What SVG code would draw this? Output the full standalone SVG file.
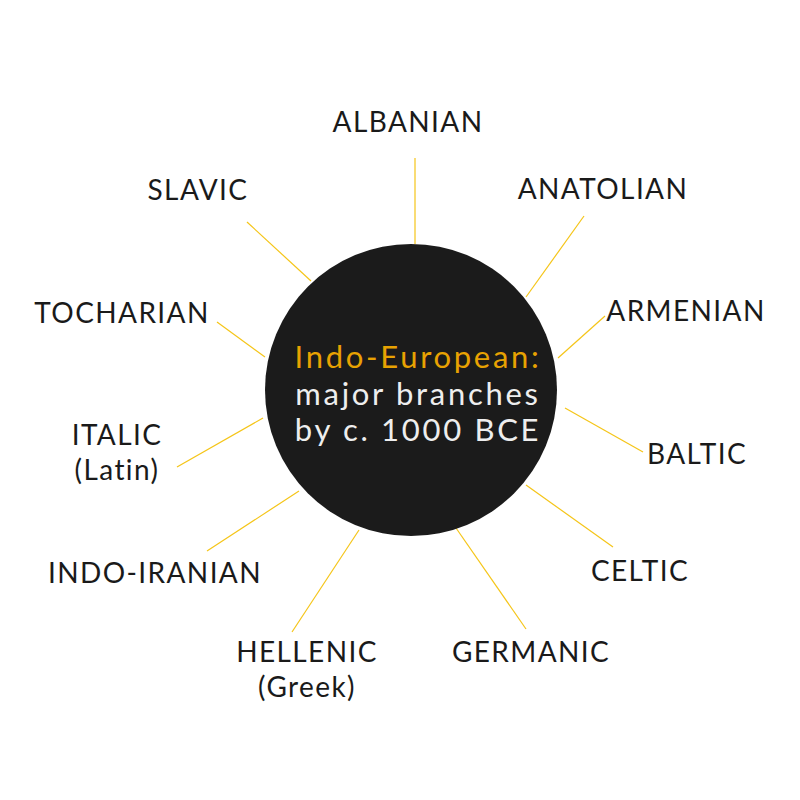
<svg xmlns="http://www.w3.org/2000/svg" width="800" height="800" viewBox="0 0 800 800">
<style>
.lbl{font-family:Lato,"Liberation Sans",sans-serif;font-size:28px;letter-spacing:1.4px;fill:#1a1a1a;text-anchor:middle}
.ln{stroke:#f5c518;stroke-width:1.2;fill:none}
.ttl{font-family:Lato,"Liberation Sans",sans-serif;font-size:31px;letter-spacing:2.7px;text-anchor:middle}
</style>
<rect width="800" height="800" fill="#ffffff"/>
<g id="connectors">
<line class="ln" x1="415" y1="158" x2="415" y2="244"/>
<line class="ln" x1="584" y1="216" x2="526" y2="297"/>
<line class="ln" x1="605" y1="316" x2="558" y2="358"/>
<line class="ln" x1="643" y1="452" x2="565" y2="408"/>
<line class="ln" x1="613" y1="547" x2="526" y2="485"/>
<line class="ln" x1="526" y1="629" x2="456" y2="528"/>
<line class="ln" x1="292" y1="632" x2="359" y2="530"/>
<line class="ln" x1="207" y1="551" x2="299" y2="491"/>
<line class="ln" x1="177" y1="467" x2="263" y2="418"/>
<line class="ln" x1="217" y1="322" x2="265" y2="357"/>
<line class="ln" x1="247" y1="222" x2="311" y2="281"/>
</g>
<g id="hub">
<circle cx="411" cy="390" r="146" fill="#1b1b1b"/>
<text class="ttl" x="418" y="368" fill="#e8a202">Indo-European:</text>
<text class="ttl" x="418" y="405" fill="#eeeeee">major branches</text>
<text class="ttl" x="418" y="441" fill="#eeeeee">by c. 1000 BCE</text>
</g>
<g id="albanian"><text class="lbl" x="408" y="132">ALBANIAN</text></g>
<g id="anatolian"><text class="lbl" x="603" y="199">ANATOLIAN</text></g>
<g id="armenian"><text class="lbl" x="686" y="321">ARMENIAN</text></g>
<g id="baltic"><text class="lbl" x="697" y="464">BALTIC</text></g>
<g id="celtic"><text class="lbl" x="640" y="581">CELTIC</text></g>
<g id="germanic"><text class="lbl" x="531" y="662">GERMANIC</text></g>
<g id="hellenic"><text class="lbl" x="307" y="662">HELLENIC</text><text class="lbl" x="307" y="697">(Greek)</text></g>
<g id="indo-iranian"><text class="lbl" x="155" y="583">INDO-IRANIAN</text></g>
<g id="italic"><text class="lbl" x="117" y="445">ITALIC</text><text class="lbl" x="117" y="480">(Latin)</text></g>
<g id="tocharian"><text class="lbl" x="122" y="323">TOCHARIAN</text></g>
<g id="slavic"><text class="lbl" x="198" y="200">SLAVIC</text></g>
</svg>
